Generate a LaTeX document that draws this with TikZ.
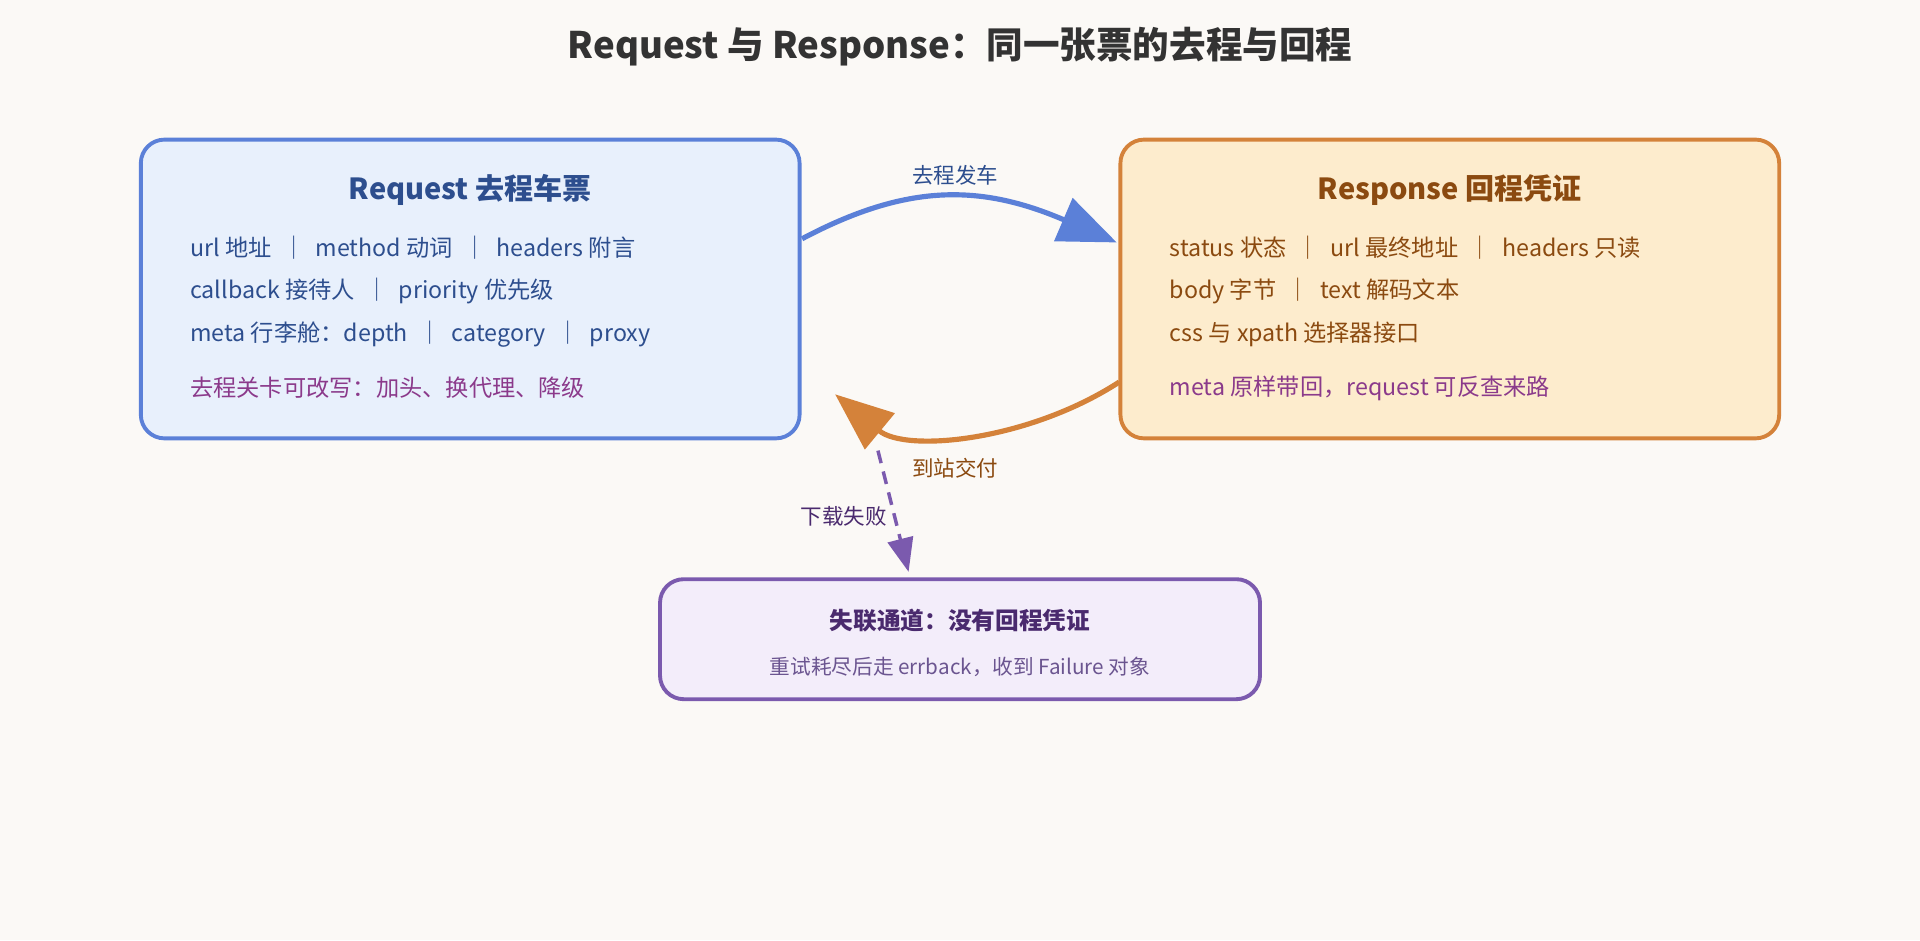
\documentclass[tikz,border=0pt]{standalone}
\usepackage{fontspec}
\setmainfont{Noto Sans CJK SC}
\usetikzlibrary{arrows.meta}
\definecolor{bg}{HTML}{FBF9F6}
\definecolor{reqfill}{HTML}{E8F0FC}
\definecolor{reqline}{HTML}{5B80D8}
\definecolor{reqtext}{HTML}{2D4E8E}
\definecolor{resfill}{HTML}{FDECCD}
\definecolor{resline}{HTML}{D4823A}
\definecolor{restext}{HTML}{8B4A10}
\definecolor{failfill}{HTML}{F3EDFA}
\definecolor{failline}{HTML}{7B5AAE}
\definecolor{failtext}{HTML}{4A2A6E}
\definecolor{failsub}{HTML}{6B5590}
\definecolor{note}{HTML}{8B3A8B}
\definecolor{titlec}{HTML}{333333}
\begin{document}
\begin{tikzpicture}[x=0.02cm,y=-0.02cm,
  box/.style={draw,line width=1.8pt,rounded corners=11pt},
  line/.style={anchor=west,font=\fontsize{10.8}{12}\selectfont,inner sep=0},
  btitle/.style={font=\bfseries\fontsize{13.5}{15}\selectfont,inner sep=0},
  lbl/.style={font=\fontsize{10}{12}\selectfont,inner sep=0}]
\fill[bg] (0,0) rectangle (1568,768);
\useasboundingbox (0,0) rectangle (1568,768);
\node[font=\bfseries\fontsize{17}{20}\selectfont,text=titlec] (title) at (784,38) {Request 与 Response：同一张票的去程与回程};
% request
\node[box,draw=reqline,fill=reqfill,minimum width=538*0.02cm,minimum height=244*0.02cm] (req) at (384,236) {};
\node[btitle,text=reqtext] (reqt) at (384,155) {Request 去程车票};
\node[line,text=reqtext] (r1) at (155,202) {url 地址 \ ｜ \ method 动词 \ ｜ \ headers 附言};
\node[line,text=reqtext] (r2) at (155,238) {callback 接待人 \ ｜ \ priority 优先级};
\node[line,text=reqtext] (r3) at (155,273) {meta 行李舱：depth \ ｜ \ category \ ｜ \ proxy};
\node[line,text=note] (r4) at (155,317) {去程关卡可改写：加头、换代理、降级};
% response
\node[box,draw=resline,fill=resfill,minimum width=538*0.02cm,minimum height=244*0.02cm] (res) at (1184,236) {};
\node[btitle,text=restext] (rest) at (1184,155) {Response 回程凭证};
\node[line,text=restext] (s1) at (955,202) {status 状态 \ ｜ \ url 最终地址 \ ｜ \ headers 只读};
\node[line,text=restext] (s2) at (955,238) {body 字节 \ ｜ \ text 解码文本};
\node[line,text=restext] (s3) at (955,273) {css 与 xpath 选择器接口};
\node[line,text=note] (s4) at (955,317) {meta 原样带回，request 可反查来路};
% failure
\node[box,draw=failline,fill=failfill,minimum width=490*0.02cm,minimum height=98*0.02cm] (fail) at (784,522) {};
\node[font=\bfseries\fontsize{11}{13}\selectfont,text=failtext,inner sep=0] (ft) at (784,507) {失联通道：没有回程凭证};
\node[font=\fontsize{9.6}{12}\selectfont,text=failsub,inner sep=0] (fs) at (784,545) {重试耗尽后走 errback，收到 Failure 对象};
% connectors
\coordinate (a1) at (655,195);
\coordinate (a2) at (912,198);
\draw[reqline,line width=2.4pt,-{Triangle[length=0.95cm,width=0.75cm]}] (a1) .. controls (740,150) and (800,150) .. (a2);
\node[lbl,text=reqtext] (l1) at (780,143) {去程发车};
\coordinate (b1) at (914,312);
\coordinate (b2) at (682,322);
\draw[resline,line width=2.4pt,-{Triangle[length=0.95cm,width=0.75cm]}] (b1) .. controls (840,360) and (740,370) .. (b2);
\node[lbl,text=restext] (l2) at (780,382) {到站交付};
\coordinate (c1) at (717,368);
\coordinate (c2) at (742,467);
\draw[failline,line width=1.6pt,dash pattern=on 6pt off 4pt,-{Triangle[length=0.55cm,width=0.42cm]}] (c1) -- (c2);
\node[lbl,text=failtext] (l3) at (689,422) {下载失败};
\end{tikzpicture}
\end{document}
